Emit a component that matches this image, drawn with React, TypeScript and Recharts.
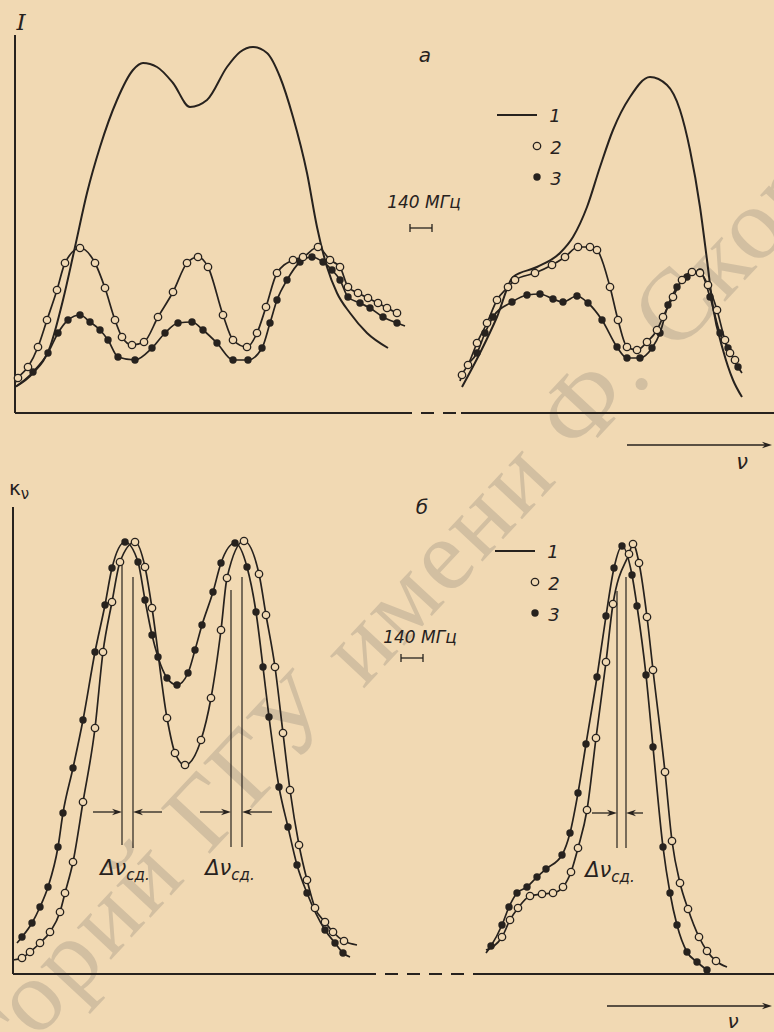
import React from 'react';
import { ComposedChart, Line, XAxis, YAxis, ReferenceLine, ReferenceDot } from 'recharts';

const PAPER = '#f1d9b3';
const INK = '#27221e';
const SANS = '"DejaVu Sans", sans-serif';
const SERIF = '"DejaVu Serif", serif';

// points are [ν, value] in arbitrary units;
// a third element 0 marks a point of the drawn curve that carries no marker

// panel а — emission intensity I
const aLine1L = [[0, 26], [18, 40], [35, 66], [48, 113], [60, 166], [72, 220], [85, 266], [102, 313], [118, 343], [128, 350], [142, 346], [158, 330], [175, 306], [192, 313], [212, 346], [225, 361], [238, 366], [252, 360], [265, 336], [278, 296], [292, 240], [302, 186], [312, 146], [322, 120], [335, 100], [352, 80], [373, 65]];
const aOpenL = [[0, 30, 0], [3, 35], [13, 46], [23, 66], [32, 93], [42, 123], [50, 150], [65, 165], [80, 150], [90, 125], [100, 93], [107, 76], [117, 68], [129, 71], [143, 96], [158, 121], [172, 150], [183, 156], [193, 146], [208, 98], [218, 73], [232, 66], [242, 80], [251, 106], [262, 140], [278, 153], [288, 156], [303, 166], [315, 153], [325, 146], [333, 126], [343, 120], [353, 115], [363, 110], [372, 105], [382, 100]];
const aFillL = [[2, 27, 0], [18, 41], [33, 60], [43, 80], [53, 93], [65, 98], [75, 91], [85, 83], [93, 73], [103, 56], [120, 53], [137, 65], [150, 80], [163, 90], [177, 91], [188, 83], [202, 70], [218, 53], [233, 53], [247, 65], [255, 90], [262, 113], [272, 133], [285, 151], [297, 156], [308, 151], [317, 143], [325, 133], [333, 116], [345, 110], [355, 105], [368, 96], [382, 90], [390, 87, 0]];
const aLine1R = [[447, 26], [465, 60], [482, 96], [498, 136], [522, 146], [545, 160], [558, 176], [572, 206], [585, 246], [598, 283], [615, 316], [635, 336], [652, 328], [665, 303], [675, 263], [685, 206], [692, 153], [698, 106], [708, 63], [718, 33], [727, 16]];
const aOpenR = [[445, 32, 0], [447, 38], [453, 48], [462, 70], [472, 90], [482, 113], [493, 126], [500, 133], [520, 140], [537, 148], [550, 156], [563, 166], [575, 166], [582, 163], [595, 126], [603, 93], [612, 66], [622, 63], [632, 71], [642, 83], [648, 96], [658, 116], [667, 133], [677, 141], [685, 140], [693, 128], [702, 103], [710, 73], [715, 60], [720, 53], [723, 46, 0]];
const aFillR = [[455, 51, 0], [462, 60], [470, 80], [478, 96], [497, 111], [512, 118], [525, 119], [538, 114], [548, 111], [562, 117], [573, 110], [587, 93], [602, 66], [612, 55], [625, 55], [637, 65], [645, 80], [653, 108], [662, 126], [672, 136], [685, 141], [695, 116], [705, 80], [713, 65], [723, 46], [727, 40, 0]];

// panel б — absorption coefficient κν
const bOpenL = [[0, 14, 0], [9, 16], [17, 22], [27, 31], [37, 42], [47, 62], [52, 81], [60, 112], [70, 172], [82, 246], [90, 322], [99, 372], [107, 412], [122, 432], [132, 407], [139, 366], [154, 256], [162, 221], [172, 209], [188, 234], [198, 276], [208, 344], [214, 396], [231, 433], [246, 400], [253, 359], [262, 307], [270, 241], [277, 184], [286, 129], [294, 94], [302, 66], [312, 52], [320, 42], [331, 33], [344, 29, 0]];
const bFillL = [[4, 31, 0], [9, 37], [19, 51], [27, 67], [35, 87], [45, 127], [50, 161], [60, 206], [70, 254], [82, 322], [92, 369], [99, 406], [112, 432], [125, 412], [132, 374], [139, 339], [145, 317], [154, 296], [164, 289], [175, 301], [182, 324], [189, 349], [200, 382], [208, 411], [222, 431], [234, 407], [243, 362], [250, 307], [256, 257], [266, 187], [275, 147], [284, 109], [294, 81], [312, 44], [322, 31], [330, 21], [337, 17, 0]];
const bOpenR = [[473, 24, 0], [489, 37], [497, 54], [505, 66], [517, 78], [529, 80], [540, 81], [550, 87], [558, 102], [565, 126], [574, 164], [583, 236], [593, 312], [600, 370], [616, 420], [620, 430], [626, 411], [634, 357], [640, 304], [652, 202], [659, 133], [667, 91], [675, 65], [686, 37], [694, 23], [703, 13], [714, 7, 0]];
const bFillR = [[473, 21, 0], [478, 28], [489, 49], [496, 67], [504, 81], [514, 87], [524, 97], [533, 105], [549, 119], [557, 141], [565, 181], [573, 230], [584, 297], [593, 358], [601, 406], [609, 428], [619, 399], [624, 368], [633, 299], [640, 227], [650, 127], [657, 81], [664, 49], [674, 22], [684, 12], [694, 4]];

const legendItems = ['1', '2', '3'];
const scaleLabel = '140 МГц';
const shiftLabel = 'сд.';

const rows = (a: number[][]) => a.map(([x, y, m]) => ({ x, y, m: m !== 0 }));

const dotOpen = (p: any) =>
  p.payload.m ? (
    <circle key={p.index} cx={p.cx} cy={p.cy} r={3.7} fill={PAPER} stroke={INK} strokeWidth={1.3} />
  ) : (
    <g key={p.index} />
  );
const dotFilled = (p: any) =>
  p.payload.m ? <circle key={p.index} cx={p.cx} cy={p.cy} r={3.7} fill={INK} /> : <g key={p.index} />;

const curve = (id: string, a: number[][], kind: 'line' | 'open' | 'filled') => (
  <Line
    key={id}
    data={rows(a)}
    dataKey="y"
    type="monotone"
    stroke={INK}
    strokeWidth={kind === 'line' ? 2 : 1.7}
    dot={kind === 'line' ? false : kind === 'open' ? dotOpen : dotFilled}
    activeDot={false}
    isAnimationActive={false}
  />
);

const arrow = (p: any) => {
  const { x1, y1, x2, y2 } = p;
  const a = Math.atan2(y2 - y1, x2 - x1);
  const L = 10;
  const W = 3.2;
  const bx = x2 - L * Math.cos(a);
  const by = y2 - L * Math.sin(a);
  const nx = -Math.sin(a) * W;
  const ny = Math.cos(a) * W;
  const mx = x2 - 0.7 * L * Math.cos(a);
  const my = y2 - 0.7 * L * Math.sin(a);
  return (
    <g>
      <line x1={x1} y1={y1} x2={mx} y2={my} stroke={INK} strokeWidth={1.3} />
      <polygon points={`${x2},${y2} ${bx + nx},${by + ny} ${mx},${my} ${bx - nx},${by - ny}`} fill={INK} />
    </g>
  );
};

const seg = (key: string, x1: number, y1: number, x2: number, y2: number, w = 2, dash?: string) => (
  <ReferenceLine
    key={key}
    segment={[{ x: x1, y: y1 }, { x: x2, y: y2 }]}
    stroke={INK}
    strokeWidth={w}
    strokeDasharray={dash}
    ifOverflow="visible"
  />
);

const arr = (key: string, x1: number, y1: number, x2: number, y2: number) => (
  <ReferenceLine key={key} segment={[{ x: x1, y: y1 }, { x: x2, y: y2 }]} shape={arrow} ifOverflow="visible" />
);

const txt = (key: string, x: number, y: number, body: React.ReactNode, size = 18, family = SANS, italic = true) => (
  <ReferenceDot
    key={key}
    x={x}
    y={y}
    r={0}
    ifOverflow="visible"
    shape={(p: any) => (
      <text
        x={p.cx}
        y={p.cy}
        fill={INK}
        fontFamily={family}
        fontStyle={italic ? 'italic' : 'normal'}
        fontSize={size}
        textAnchor="middle"
        dominantBaseline="central"
      >
        {body}
      </text>
    )}
  />
);

const marker = (key: string, x: number, y: number, open: boolean) => (
  <ReferenceDot
    key={key}
    x={x}
    y={y}
    r={3.7}
    fill={open ? PAPER : INK}
    stroke={INK}
    strokeWidth={open ? 1.3 : 0}
    ifOverflow="visible"
  />
);

const delta = (key: string, x: number, y: number) =>
  txt(
    key,
    x,
    y,
    <>
      Δν
      <tspan dy={7} fontSize={15}>
        {shiftLabel}
      </tspan>
    </>,
    21
  );

const legend = (p: string, x: number, y: number, step: number) => [
  seg(p + 'l', x, y, x + 40, y, 2),
  txt(p + 't1', x + 58, y, legendItems[0]),
  marker(p + 'm2', x + 40, y - step, true),
  txt(p + 't2', x + 59, y - step - 1, legendItems[1]),
  marker(p + 'm3', x + 40, y - 2 * step, false),
  txt(p + 't3', x + 59, y - 2 * step - 1, legendItems[2]),
];

const scaleBar = (p: string, x: number, y: number, tx: number, ty: number) => [
  txt(p + 't', tx, ty, scaleLabel, 17),
  seg(p + 'h', x, y, x + 22, y, 1.3),
  seg(p + 'a', x, y - 4, x, y + 4, 1.3),
  seg(p + 'b', x + 22, y - 4, x + 22, y + 4, 1.3),
];

export default function App() {
  return (
    <div style={{ position: 'absolute', left: 0, top: 0, width: 774, height: 1032, background: PAPER, overflow: 'hidden' }}>
      <svg width={774} height={1032} style={{ position: 'absolute', left: 0, top: 0 }}>
        <text
          x={372}
          y={680}
          transform="rotate(-47 372 680)"
          textAnchor="middle"
          fontFamily='"Liberation Serif", serif'
          fontSize={102}
          letterSpacing={3}
          fill="#8c8478"
          opacity={0.3}
        >
          Репозиторий ГГУ имени Ф. Скорины
        </text>
      </svg>

      <div style={{ position: 'absolute', left: 0, top: 0 }}>
        <ComposedChart width={774} height={480} margin={{ top: 0, right: 0, bottom: 0, left: 0 }}>
          <XAxis type="number" dataKey="x" domain={[-15, 759]} allowDataOverflow hide />
          <YAxis type="number" domain={[-67, 413]} allowDataOverflow hide />
          {seg('ay', 0, 0, 0, 378)}
          {seg('ax1', 0, 0, 384, 0)}
          {seg('ax2', 384, 0, 446, 0, 2, '13 9')}
          {seg('ax3', 446, 0, 759, 0)}
          {arr('anu', 612, -32, 757, -32)}
          {txt('nu', 727, -49, 'ν', 21)}
          {txt('I', 6, 391, 'I', 23, SERIF)}
          {txt('pa', 410, 358, 'а', 20)}
          {legend('la', 482, 298, 31)}
          {scaleBar('sa', 395, 185, 409, 211)}
          {curve('a1L', aLine1L, 'line')}
          {curve('a1R', aLine1R, 'line')}
          {curve('a3L', aFillL, 'filled')}
          {curve('a3R', aFillR, 'filled')}
          {curve('a2L', aOpenL, 'open')}
          {curve('a2R', aOpenR, 'open')}
        </ComposedChart>
      </div>

      <div style={{ position: 'absolute', left: 0, top: 470 }}>
        <ComposedChart width={774} height={562} margin={{ top: 0, right: 0, bottom: 0, left: 0 }}>
          <XAxis type="number" dataKey="x" domain={[-13, 761]} allowDataOverflow hide />
          <YAxis type="number" domain={[-58, 504]} allowDataOverflow hide />
          {seg('by', 0, 0, 0, 467)}
          {seg('bx1', 0, 0, 350, 0)}
          {seg('bx2', 350, 0, 472, 0, 2, '13 9')}
          {seg('bx3', 472, 0, 761, 0)}
          {arr('bnu', 594, -32, 759, -32)}
          {txt('nu', 720, -47, 'ν', 20)}
          {txt(
            'k',
            6,
            486,
            <>
              κ<tspan dy={6} fontSize={15}>ν</tspan>
            </>,
            20,
            SANS,
            false
          )}
          {txt('pb', 409, 467, 'б', 20)}
          {legend('lb', 482, 423, 31)}
          {scaleBar('sb', 388, 316, 407, 337)}

          {seg('v1', 109, 129, 109, 412, 1.2)}
          {seg('v2', 120, 126, 120, 397, 1.2)}
          {seg('v3', 218, 127, 218, 384, 1.2)}
          {seg('v4', 229, 127, 229, 397, 1.2)}
          {seg('v5', 604, 126, 604, 383, 1.2)}
          {seg('v6', 613, 126, 613, 397, 1.2)}
          {arr('r1', 80, 162, 109, 162)}
          {arr('r2', 149, 162, 120, 162)}
          {arr('r3', 187, 162, 218, 162)}
          {arr('r4', 259, 162, 229, 162)}
          {arr('r5', 579, 161, 604, 161)}
          {arr('r6', 630, 161, 613, 161)}
          {delta('d1', 112, 106)}
          {delta('d2', 217, 106)}
          {delta('d3', 597, 104)}

          {curve('b3L', bFillL, 'filled')}
          {curve('b3R', bFillR, 'filled')}
          {curve('b2L', bOpenL, 'open')}
          {curve('b2R', bOpenR, 'open')}
        </ComposedChart>
      </div>
    </div>
  );
}
